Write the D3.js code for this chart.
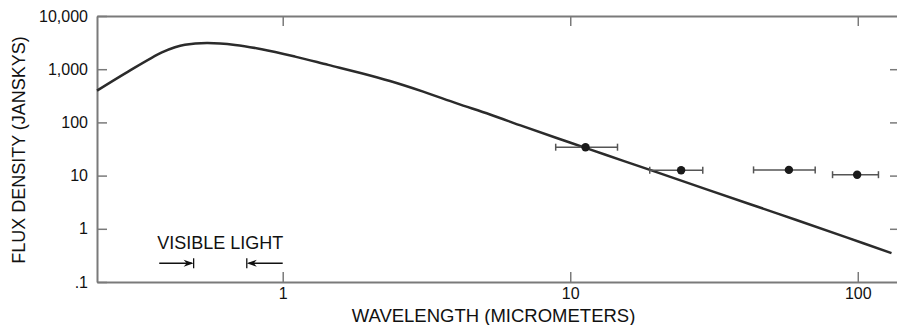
<!DOCTYPE html>
<meta charset="utf-8">
<title>flux density</title>
<style>

body {
  margin: 0;
  background: #fff;
}

svg {
  display: block;
  font-family: "Liberation Sans", Arial, sans-serif;
}

.axis path,
.axis line {
  stroke: #7a7a7a;
}

.axis path {
  stroke-width: 2;
}

.axis line {
  stroke-width: 1.5;
}

.axis text {
  font-size: 16px;
  fill: #111;
}

.curve {
  fill: none;
  stroke: #2b2b2b;
  stroke-width: 2.5;
}

.errbar {
  stroke: #555;
  stroke-width: 1.5;
}

.title {
  font-size: 18px;
  fill: #111;
}

</style>
<svg width="897" height="325"></svg>
<script src="https://cdn.jsdelivr.net/npm/d3@7"></script>
<script>

// model spectrum (micrometers, janskys)
var curveWavelength = [0.226, 0.29, 0.38, 0.422, 0.457, 0.545, 0.683, 0.845, 1.104, 1.44, 1.88, 2.36,
                       3.08, 4.03, 5.26, 6.87, 8.97, 11.7, 15.3, 19.96, 29.8, 53.6, 91.4, 131];
var curveFlux       = [396, 902, 2070, 2592, 2887, 3100, 2862, 2377, 1725, 1205, 841, 600,
                       379, 228, 141, 84, 51, 31.1, 18.9, 11.6, 5.5, 1.87, 0.69, 0.35];

// measured points with wavelength bands
var obsWavelength = [11.3, 24.3, 57.6, 99.5];
var obsFlux       = [34.2, 12.6, 12.8, 10.4];
var obsLow        = [8.9, 18.9, 43.4, 81.7];
var obsHigh       = [14.6, 28.9, 71.1, 118];

// axes
var xTicks = [1, 10, 100];
var xTickLabels = ["1", "10", "100"];
var yTicks = [0.1, 1, 10, 100, 1000, 10000];
var yTickLabels = [".1", "1", "10", "100", "1,000", "10,000"];

// visible light marker
var visibleEdges = [0.49, 0.75];
var visibleTails = [0.372, 1.0];
var visibleLevel = 0.225;
var visibleTextAt = [0.366, 0.42];

var svg = d3.select("svg"),
    margin = {top: 16, left: 97},
    width = 801,
    height = 266;

var x = d3.scaleLog()
    .domain([0.226, 138])
    .range([margin.left, margin.left + width]);

var y = d3.scaleLog()
    .domain([0.1, 10000])
    .range([margin.top + height, margin.top]);

svg.append("g")
    .attr("class", "axis")
    .attr("transform", "translate(0," + (margin.top + height) + ")")
    .call(d3.axisBottom(x)
      .tickValues(xTicks)
      .tickFormat(function(d, i) { return xTickLabels[i]; })
      .tickSizeInner(-10)
      .tickSizeOuter(0)
      .tickPadding(6));

svg.append("g")
    .attr("class", "axis")
    .attr("transform", "translate(0," + margin.top + ")")
    .call(d3.axisTop(x)
      .tickValues(xTicks)
      .tickFormat("")
      .tickSizeInner(-10)
      .tickSizeOuter(0));

svg.append("g")
    .attr("class", "axis")
    .attr("transform", "translate(" + margin.left + ",0)")
    .call(d3.axisLeft(y)
      .tickValues(yTicks)
      .tickFormat(function(d, i) { return yTickLabels[i]; })
      .tickSizeInner(-10)
      .tickSizeOuter(0)
      .tickPadding(9));

svg.append("g")
    .attr("class", "axis")
    .attr("transform", "translate(" + (margin.left + width) + ",0)")
    .call(d3.axisRight(y)
      .tickValues(yTicks.slice(1, -1))
      .tickFormat("")
      .tickSizeInner(-8)
      .tickSizeOuter(0));

// curve
var line = d3.line()
    .x(function(d) { return x(d[0]); })
    .y(function(d) { return y(d[1]); })
    .curve(d3.curveCatmullRom.alpha(0.5));

svg.append("path")
    .attr("class", "curve")
    .attr("d", line(d3.zip(curveWavelength, curveFlux)));

// observations
var obs = svg.append("g")
  .selectAll("g")
    .data(d3.range(obsWavelength.length))
  .enter().append("g");

obs.append("line")
    .attr("class", "errbar")
    .attr("x1", function(i) { return x(obsLow[i]); })
    .attr("x2", function(i) { return x(obsHigh[i]); })
    .attr("y1", function(i) { return y(obsFlux[i]); })
    .attr("y2", function(i) { return y(obsFlux[i]); });

obs.selectAll(".cap")
    .data(function(i) { return [[obsLow[i], obsFlux[i]], [obsHigh[i], obsFlux[i]]]; })
  .enter().append("line")
    .attr("class", "errbar cap")
    .attr("x1", function(d) { return x(d[0]); })
    .attr("x2", function(d) { return x(d[0]); })
    .attr("y1", function(d) { return y(d[1]) - 3.5; })
    .attr("y2", function(d) { return y(d[1]) + 3.5; });

obs.append("circle")
    .attr("cx", function(i) { return x(obsWavelength[i]); })
    .attr("cy", function(i) { return y(obsFlux[i]); })
    .attr("r", 4.2)
    .style("fill", "#1a1a1a");

// visible light arrows
var vy = y(visibleLevel);
var vis = svg.append("g")
    .style("stroke", "#111")
    .style("stroke-width", 1.3);

visibleEdges.forEach(function(edge, i) {
  var ex = x(edge),
      tx = x(visibleTails[i]),
      dir = ex > tx ? 1 : -1;
  vis.append("line")
      .attr("x1", tx).attr("x2", ex - dir * 2)
      .attr("y1", vy).attr("y2", vy);
  vis.append("line")
      .attr("x1", ex).attr("x2", ex)
      .attr("y1", vy - 5).attr("y2", vy + 5);
  vis.append("path")
      .attr("d", "M" + ex + "," + vy + "L" + (ex - dir * 10) + "," + (vy - 3.5) +
                 "L" + (ex - dir * 7) + "," + vy + "L" + (ex - dir * 10) + "," + (vy + 3.5) + "Z")
      .style("fill", "#111")
      .style("stroke", "none");
});

svg.append("text")
    .attr("class", "title")
    .attr("x", x(visibleTextAt[0]))
    .attr("y", y(visibleTextAt[1]))
    .text("VISIBLE LIGHT");

// axis titles
svg.append("text")
    .attr("class", "title")
    .attr("x", 493.5)
    .attr("y", 322)
    .style("text-anchor", "middle")
    .style("font-size", "18.5px")
    .text("WAVELENGTH (MICROMETERS)");

svg.append("text")
    .attr("class", "title")
    .attr("transform", "translate(25," + (margin.top + height / 2 + 1) + ") rotate(-90)")
    .style("text-anchor", "middle")
    .text("FLUX DENSITY (JANSKYS)");

</script>
